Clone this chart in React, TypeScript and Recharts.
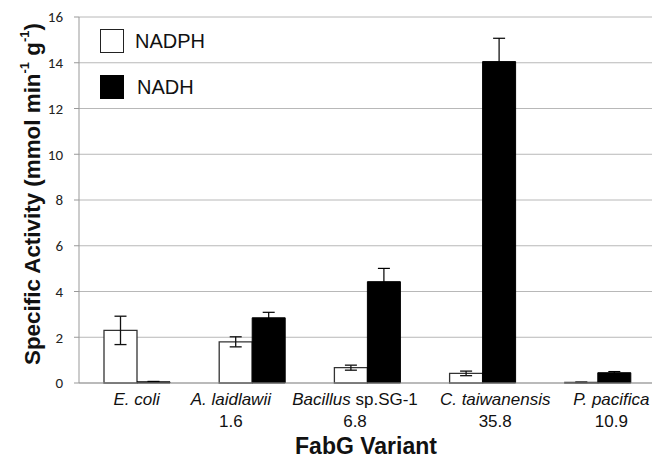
import React from "react";
import { BarChart, Bar, XAxis, YAxis, CartesianGrid, ErrorBar } from "recharts";

const categoryItalic = ["E. coli", "A. laidlawii", "Bacillus", "C. taiwanensis", "P. pacifica"];
const categoryRoman = ["", "", " sp.SG-1", "", ""];
const subLabels = ["", "1.6", "6.8", "35.8", "10.9"];
const seriesNames = ["NADPH", "NADH"];
const nadph = [2.3, 1.8, 0.67, 0.42, 0.03];
const nadphErr = [0.62, 0.22, 0.11, 0.1, 0.01];
const nadh = [0.05, 2.85, 4.43, 14.05, 0.45];
const nadhErr = [0.02, 0.24, 0.58, 1.02, 0.05];
const yTicks = [0, 2, 4, 6, 8, 10, 12, 14, 16];

const data = categoryItalic.map((c, i) => ({
  name: c + categoryRoman[i],
  nadph: nadph[i],
  nadphErr: nadphErr[i],
  nadh: nadh[i],
  nadhErr: nadhErr[i],
}));

const labelShift = [0, -21, -12, 13, 14];
const FONT = "'Liberation Sans', Arial, sans-serif";

const XTick = (props: any) => {
  const { x, payload } = props;
  const i = payload.index;
  const cx = x + labelShift[i];
  return (
    <g>
      <text x={cx} y={405} textAnchor="middle" fontFamily={FONT} fontSize={17} fill="#111">
        <tspan fontStyle="italic">{categoryItalic[i]}</tspan>
        {categoryRoman[i] ? <tspan>{categoryRoman[i]}</tspan> : null}
      </text>
      {subLabels[i] ? (
        <text x={cx} y={427} textAnchor="middle" fontFamily={FONT} fontSize={17} fill="#111">
          {subLabels[i]}
        </text>
      ) : null}
    </g>
  );
};

const YLabel = (props: any) => {
  const vb = props.viewBox || {};
  const cx = 32;
  const cy = (vb.y || 17) + (vb.height || 366) / 2 - 6;
  return (
    <text
      x={cx}
      y={cy}
      transform={`rotate(-90, ${cx}, ${cy})`}
      textAnchor="middle"
      dominantBaseline="central"
      fontFamily={FONT}
      fontWeight="bold"
      fontSize={22.4}
      fill="#111"
    >
      <tspan>Specific Activity (mmol min</tspan>
      <tspan fontSize={13} dy={-8}>-1</tspan>
      <tspan dy={8}> g</tspan>
      <tspan fontSize={13} dy={-8}>-1</tspan>
      <tspan dy={8}>)</tspan>
    </text>
  );
};

const XLabel = (props: any) => {
  const vb = props.viewBox || {};
  const cx = (vb.x || 79) + (vb.width || 576) / 2 - 1;
  return (
    <text x={cx} y={454} textAnchor="middle" fontFamily={FONT} fontWeight="bold" fontSize={23} fill="#111">
      FabG Variant
    </text>
  );
};

const LegendBox = () => (
  <div style={{ position: "absolute", left: 100, top: 29, fontFamily: FONT, fontSize: 20, color: "#111", lineHeight: "24px" }}>
    <div style={{ display: "flex", alignItems: "center", height: 24 }}>
      <div style={{ width: 22, height: 22, border: "1.5px solid #222", background: "#fff" }} />
      <span style={{ marginLeft: 11 }}>{seriesNames[0]}</span>
    </div>
    <div style={{ display: "flex", alignItems: "center", height: 24, marginTop: 22 }}>
      <div style={{ width: 22, height: 22, border: "1.5px solid #000", background: "#000" }} />
      <span style={{ marginLeft: 13 }}>{seriesNames[1]}</span>
    </div>
  </div>
);

export default function App() {
  return (
    <div style={{ position: "absolute", left: 0, top: 0, width: 652, height: 460, overflow: "hidden", background: "#fff" }}>
      <BarChart
        width={670}
        height={460}
        data={data}
        margin={{ top: 17, right: 15, bottom: 47, left: 0 }}
        barGap={0}
        barSize={33}
      >
        <CartesianGrid vertical={false} stroke="#b8b8b8" strokeWidth={1} />
        <XAxis
          dataKey="name"
          height={30}
          axisLine={{ stroke: "#999", strokeWidth: 1 }}
          tickLine={false}
          tick={<XTick />}
          interval={0}
          label={<XLabel />}
        />
        <YAxis
          width={79}
          domain={[0, 16]}
          ticks={yTicks}
          interval={0}
          axisLine={{ stroke: "#999", strokeWidth: 1 }}
          tickLine={{ stroke: "#999" }}
          tickSize={5}
          tickMargin={11}
          tick={{ fontFamily: "Carlito, Lato, sans-serif", fontSize: 15, fill: "#222" }}
          label={<YLabel />}
        />
        <Bar dataKey="nadph" name={seriesNames[0]} fill="#fff" stroke="#333" strokeWidth={1.3} isAnimationActive={false}>
          <ErrorBar dataKey="nadphErr" width={6} stroke="#111" strokeWidth={1.3} direction="y" />
        </Bar>
        <Bar dataKey="nadh" name={seriesNames[1]} fill="#000" stroke="#000" strokeWidth={1} isAnimationActive={false}>
          <ErrorBar dataKey="nadhErr" width={6} stroke="#000" strokeWidth={1.2} direction="y" />
        </Bar>
      </BarChart>
      <LegendBox />
    </div>
  );
}
